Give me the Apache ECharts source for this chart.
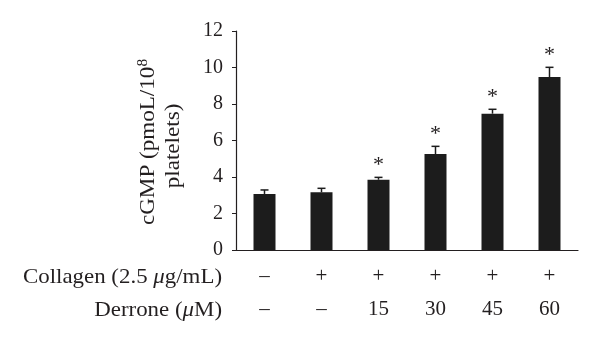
<!DOCTYPE html>
<html>
<head>
<meta charset="utf-8">
<script src="https://cdn.jsdelivr.net/npm/echarts@6/dist/echarts.min.js"></script>
<style>
html,body{margin:0;padding:0;background:#fff;}
#chart{width:600px;height:343px;}
</style>
</head>
<body>
<div id="chart"></div>
<script>
var categories = ['G1', 'G2', 'G3', 'G4', 'G5', 'G6'];
var cgmpValues = [3.07, 3.16, 3.85, 5.26, 7.47, 9.48];
var cgmpErrors = [0.22, 0.22, 0.13, 0.42, 0.24, 0.53];
var significant = [0, 0, 1, 1, 1, 1];
var collagenRow = ['–', '+', '+', '+', '+', '+'];
var derroneRow = ['–', '–', '15', '30', '45', '60'];
var yTicks = { min: 0, max: 12, interval: 2 };

var FONT = '"Liberation Serif", "DejaVu Serif", serif';
var TXT = '#231f20';

var chart = echarts.init(document.getElementById('chart'));

var errData = categories.map(function (c, i) {
  return [i, cgmpValues[i], cgmpErrors[i], significant[i]];
});

var option = {
  animation: false,
  grid: { left: 236, right: 22, top: 31, bottom: 93 },
  xAxis: {
    type: 'category',
    data: categories,
    axisLine: { show: true, lineStyle: { color: '#231f20', width: 1.2 } },
    axisTick: { show: false },
    axisLabel: {
      interval: 0,
      margin: 10,
      lineHeight: 33,
      fontSize: 21,
      fontFamily: FONT,
      color: TXT,
      formatter: function (v, i) {
        return collagenRow[i] + '\n' + derroneRow[i];
      }
    }
  },
  yAxis: {
    type: 'value',
    min: yTicks.min,
    max: yTicks.max,
    interval: yTicks.interval,
    axisLine: { show: true, lineStyle: { color: '#231f20', width: 1.2 } },
    axisTick: { show: true, length: 4, lineStyle: { color: '#231f20' } },
    splitLine: { show: false },
    axisLabel: { fontSize: 20, fontFamily: FONT, color: TXT, margin: 13 }
  },
  series: [
    {
      type: 'bar',
      data: cgmpValues,
      barWidth: 22,
      itemStyle: { color: '#1c1c1c' }
    },
    {
      type: 'custom',
      data: errData,
      z: 5,
      renderItem: function (params, api) {
        var i = api.value(0), v = api.value(1), e = api.value(2), s = api.value(3);
        var p0 = api.coord([i, v]);
        var p1 = api.coord([i, v + e]);
        var children = [
          { type: 'line', shape: { x1: p0[0], y1: p0[1], x2: p1[0], y2: p1[1] },
            style: { stroke: '#1c1c1c', lineWidth: 1.5 } },
          { type: 'line', shape: { x1: p1[0] - 4, y1: p1[1], x2: p1[0] + 4, y2: p1[1] },
            style: { stroke: '#1c1c1c', lineWidth: 1.5 } }
        ];
        if (s) {
          children.push({
            type: 'text',
            style: { text: '*', x: p1[0], y: p1[1] - 1, align: 'center', verticalAlign: 'bottom',
              font: '22px ' + FONT, fill: TXT }
          });
        }
        return { type: 'group', children: children };
      }
    }
  ],
  graphic: [
    {
      type: 'text', x: 148, y: 142, rotation: Math.PI / 2, scaleX: 1.1,
      style: {
        text: '{a|cGMP (pmoL/10}{s|8}',
        align: 'center', verticalAlign: 'middle',
        rich: {
          a: { font: '21px ' + FONT, fill: TXT },
          s: { font: '14px ' + FONT, fill: TXT, verticalAlign: 'top', padding: [0, 0, 10, 0] }
        }
      }
    },
    {
      type: 'text', x: 173, y: 146, rotation: Math.PI / 2, scaleX: 1.1,
      style: { text: 'platelets)', align: 'center', verticalAlign: 'middle',
        font: '21px ' + FONT, fill: TXT }
    },
    {
      type: 'text', x: 222, y: 277, scaleX: 1.09,
      style: {
        text: '{a|Collagen (2.5 }{i|μ}{a|g/mL)}',
        align: 'right', verticalAlign: 'middle',
        rich: {
          a: { font: '21px ' + FONT, fill: TXT },
          i: { font: 'italic 21px ' + FONT, fill: TXT }
        }
      }
    },
    {
      type: 'text', x: 222, y: 310, scaleX: 1.09,
      style: {
        text: '{a|Derrone (}{i|μ}{a|M)}',
        align: 'right', verticalAlign: 'middle',
        rich: {
          a: { font: '21px ' + FONT, fill: TXT },
          i: { font: 'italic 21px ' + FONT, fill: TXT }
        }
      }
    }
  ]
};
chart.setOption(option);
</script>
</body>
</html>
